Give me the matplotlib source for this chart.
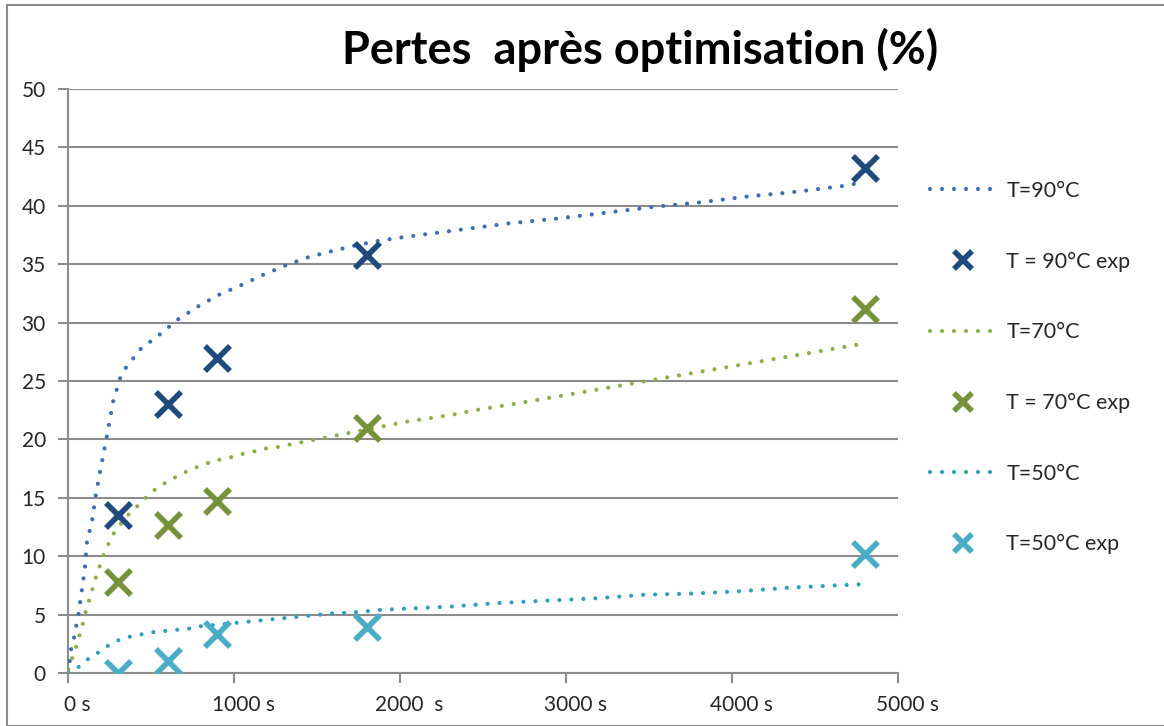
import matplotlib.pyplot as plt
from matplotlib.patches import Rectangle
import matplotlib.transforms as mtransforms

plt.rcParams['font.family'] = ['Lato', 'DejaVu Sans']

# experimental points (time in s, losses in %)
t_exp = [300, 600, 900, 1800, 4800]
exp_90 = [13.5, 23.0, 27.0, 35.8, 43.2]
exp_70 = [7.8, 12.7, 14.7, 21.0, 31.2]
exp_50 = [0.0, 1.0, 3.3, 3.9, 10.2]

# trend curves
t_90 = [2, 18, 36, 64, 102, 113, 146, 167, 193, 233, 273, 313, 347, 434, 554, 665, 785, 912,
        1042, 1177, 1311, 1448, 1584, 1729, 1870, 2014, 2227, 2442, 2659, 2944, 3235, 3522,
        3811, 4098, 4386, 4671, 4750]
fit_90 = [0.0, 2.0, 3.0, 5.1, 9.0, 11.1, 13.1, 15.2, 17.2, 20.2, 23.3, 25.2, 26.1, 27.7, 29.0,
          30.3, 31.4, 32.4, 33.2, 34.1, 34.9, 35.6, 36.1, 36.6, 37.0, 37.3, 37.7, 38.1, 38.5,
          38.9, 39.4, 39.9, 40.3, 40.8, 41.2, 41.7, 41.9]

t_70 = [2, 12, 42, 62, 82, 98, 118, 139, 159, 183, 205, 233, 263, 303, 353, 404, 454, 504, 564,
        625, 691, 755, 825, 892, 962, 1032, 1104, 1177, 1247, 1317, 1388, 1458, 1532, 1602,
        1675, 1890, 2030, 2171, 2311, 2452, 2673, 2958, 3245, 3526, 3811, 4098, 4384, 4671, 4750]
fit_70 = [0.3, 0.8, 1.9, 2.9, 3.8, 4.8, 5.8, 6.8, 7.8, 8.8, 9.8, 10.7, 11.7, 12.5, 13.4, 14.1,
          14.8, 15.5, 16.1, 16.6, 17.1, 17.5, 17.9, 18.2, 18.4, 18.7, 18.9, 19.2, 19.3, 19.5,
          19.7, 19.9, 20.1, 20.3, 20.5, 21.1, 21.5, 21.8, 22.1, 22.5, 23.0, 23.7, 24.4, 25.1,
          25.8, 26.5, 27.2, 27.9, 28.1]

t_50 = [2, 62, 122, 177, 237, 303, 369, 440, 514, 584, 655, 729, 795, 875, 1016, 1157, 1301,
        1448, 1592, 1735, 1880, 2024, 2171, 2317, 2602, 2893, 3185, 3472, 3761, 4048, 4339,
        4630, 4781]
fit_50 = [0.0, 0.5, 1.2, 1.7, 2.3, 2.8, 3.1, 3.3, 3.5, 3.6, 3.7, 3.8, 4.0, 4.1, 4.3, 4.5, 4.7,
          4.9, 5.1, 5.2, 5.4, 5.5, 5.6, 5.7, 6.0, 6.2, 6.4, 6.7, 6.8, 7.0, 7.3, 7.5, 7.6]

x_ticks = [0, 1000, 2000, 3000, 4000, 5000]
x_labels = ['0 s', '1000 s', '2000  s', '3000 s', '4000 s', '5000 s']
y_ticks = [0, 5, 10, 15, 20, 25, 30, 35, 40, 45, 50]

c_fit90, c_exp90 = '#3d6db3', '#1f4a7e'
c_fit70, c_exp70 = '#8bb04c', '#76933c'
c_fit50, c_exp50 = '#2f9fbc', '#4bacc6'

fig = plt.figure(figsize=(11.64, 7.26), dpi=100)
ax = fig.add_axes([68 / 1164, 1 - 673 / 726, 830 / 1164, 584 / 726])

lw = 3.0
dots = (0, (0.01, 8.6 / lw))


def trend(x, y, color, label):
    ln, = ax.plot(x, y, color=color, lw=lw, linestyle=dots, dash_capstyle='round',
                  label=label, zorder=3)
    return ln


def points(x, y, color, label):
    ln, = ax.plot(x, y, linestyle='none', marker='x', markersize=18, mew=4,
                  color=color, label=label, zorder=4)
    return ln


h = []
h.append(trend(t_90, fit_90, c_fit90, 'T=90°C'))
h.append(points(t_exp, exp_90, c_exp90, 'T = 90°C exp'))
h.append(trend(t_70, fit_70, c_fit70, 'T=70°C'))
h.append(points(t_exp, exp_70, c_exp70, 'T = 70°C exp'))
h.append(trend(t_50, fit_50, c_fit50, 'T=50°C'))
h.append(points(t_exp, exp_50, c_exp50, 'T=50°C exp'))

ax.set_xlim(0, 5000)
ax.set_ylim(0, 50)
ax.set_xticks(x_ticks)
ax.set_xticklabels(x_labels)
ax.set_yticks(y_ticks)
ax.yaxis.grid(True, color='#8c8c8c', lw=1.5)
ax.set_axisbelow(True)
for s in ['top', 'right']:
    ax.spines[s].set_visible(False)
for s in ['left', 'bottom']:
    ax.spines[s].set_color('#8c8c8c')
    ax.spines[s].set_linewidth(1.5)
ax.tick_params(axis='both', length=7, width=1.5, color='#8c8c8c', labelsize=15,
               labelcolor='#262626')
ax.tick_params(axis='y', pad=9)
ax.tick_params(axis='x', pad=9)

offset = mtransforms.ScaledTranslation(9 / 100, 0, fig.dpi_scale_trans)
for lab in ax.get_xticklabels():
    lab.set_transform(lab.get_transform() + offset)

fig.text(640 / 1164, 1 - 50 / 726, 'Pertes  après optimisation (%)', ha='center',
         va='center', fontsize=32.5, fontweight='bold', color='black')

fig.legend(handles=h, loc='upper left', bbox_to_anchor=(930 / 1164, 1 - 181 / 726),
           frameon=False, fontsize=15.5, labelcolor='#262626', handlelength=3.1,
           handletextpad=0.45, labelspacing=2.35, borderpad=0, borderaxespad=0,
           markerscale=0.72)

fig.patches.append(Rectangle((7 / 1164, 0), 1.2, 1 - 5 / 726, transform=fig.transFigure,
                             fill=False, edgecolor='#8c8c8c', lw=1.5, figure=fig))

plt.savefig('out.png', dpi=100)
